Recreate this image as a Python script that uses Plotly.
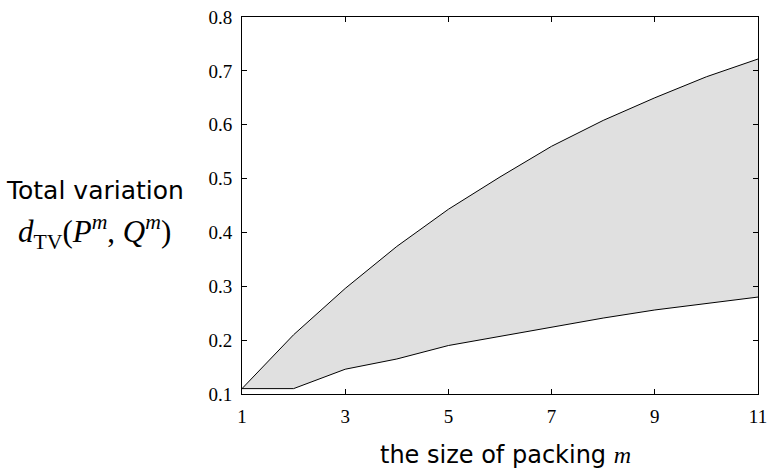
import plotly.graph_objects as go

m = [1, 2, 3, 4, 5, 6, 7, 8, 9, 10, 11]
upper = [0.11, 0.21, 0.296, 0.374, 0.443, 0.503, 0.560, 0.608, 0.650, 0.689, 0.722]
lower = [0.11, 0.11, 0.146, 0.165, 0.190, 0.207, 0.225, 0.241, 0.256, 0.268, 0.280]
x_ticks = [1, 3, 5, 7, 9, 11]
y_ticks = [0.1, 0.2, 0.3, 0.4, 0.5, 0.6, 0.7, 0.8]

SERIF = "Liberation Serif"
SANS = "DejaVu Sans"

fig = go.Figure()
fig.add_trace(go.Scatter(x=m, y=lower, mode="lines",
                         line=dict(color="black", width=1), showlegend=False))
fig.add_trace(go.Scatter(x=m, y=upper, mode="lines", fill="tonexty",
                         fillcolor="#e0e0e0",
                         line=dict(color="black", width=1), showlegend=False))

axis_common = dict(showgrid=False, zeroline=False, showline=True, linecolor="black",
                   linewidth=1, mirror="ticks", ticks="inside", ticklen=5,
                   tickcolor="black", automargin=False,
                   tickfont=dict(family=SERIF, size=19, color="black"))

fig.update_xaxes(range=[1, 11], tickvals=x_ticks, ticktext=[str(v) for v in x_ticks],
                 ticklabelstandoff=5, **axis_common)
fig.update_yaxes(range=[0.1, 0.8], tickvals=y_ticks,
                 ticktext=[f"{v:.1f}" for v in y_ticks], ticklabelstandoff=5,
                 **axis_common)

fig.add_annotation(xref="paper", yref="paper", x=-0.285, y=0.541, showarrow=False,
                   xanchor="center", yanchor="middle",
                   text="Total variation", font=dict(family=SANS, size=25, color="black"))
fig.add_annotation(xref="paper", yref="paper", x=-0.285, y=0.43, showarrow=False,
                   xanchor="center", yanchor="middle",
                   text="<i>d</i><sub>TV</sub>(<i>P</i><sup><i>m</i></sup>, <i>Q</i><sup><i>m</i></sup>)",
                   font=dict(family=SERIF, size=31, color="black"))
fig.add_annotation(xref="paper", yref="paper", x=0.51, y=-0.161, showarrow=False,
                   xanchor="center", yanchor="middle",
                   text="the size of packing <span style=\"font-family:'Liberation Serif'\"><i>m</i></span>",
                   font=dict(family=SANS, size=24, color="black"))

fig.update_layout(width=773, height=471, plot_bgcolor="white", paper_bgcolor="white",
                  margin=dict(l=242, r=15, t=17, b=77))

fig.write_html("out.html", config={"displayModeBar": False},
               post_script="document.body.style.margin='0px';")
